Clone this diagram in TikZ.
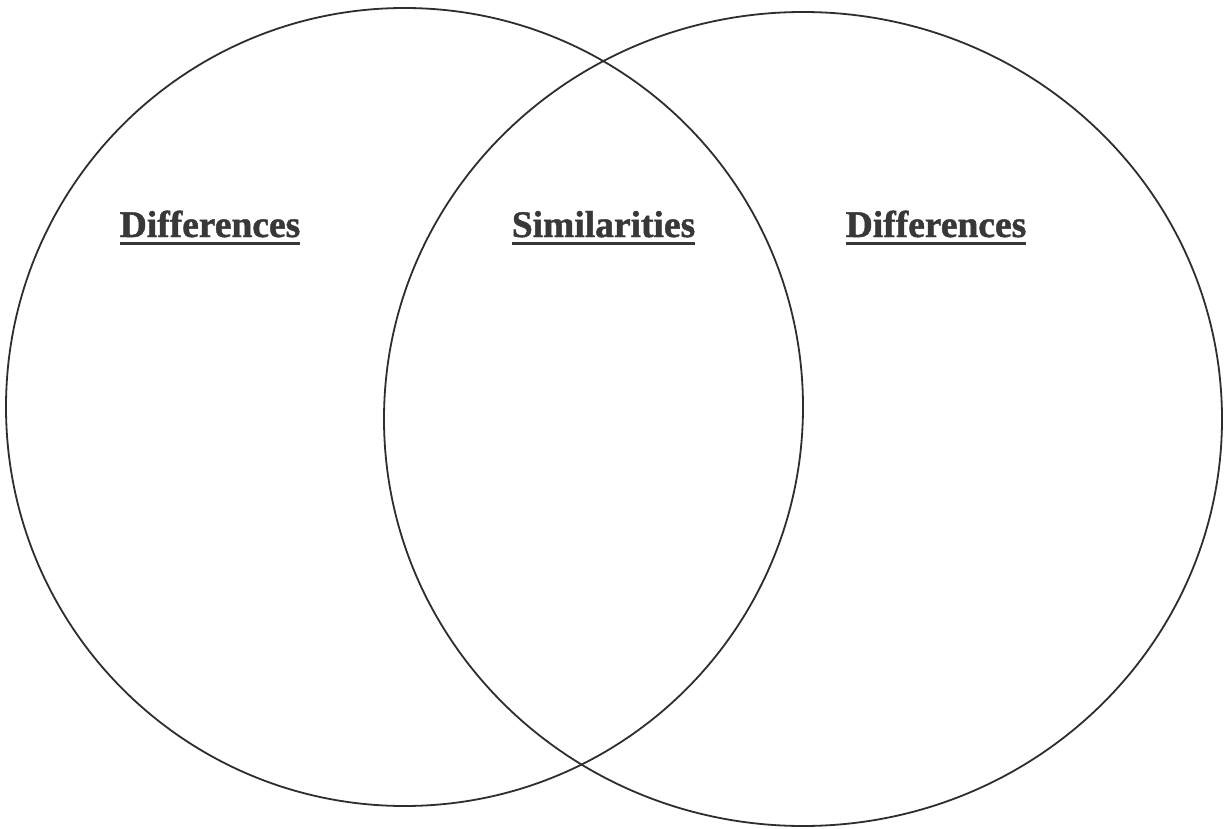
\documentclass[tikz,border=0pt]{standalone}
\usepackage{fontspec}
\setmainfont{Liberation Serif}
\newfontfamily\headfont[FakeBold=1.2]{Liberation Serif Bold}
\definecolor{ink}{HTML}{2E2E2E}
\definecolor{labelink}{HTML}{383838}
\tikzset{
  ring/.style={draw=ink, line width=1.8pt},
  heading/.style={anchor=base, inner sep=0pt, text=labelink,
    font=\fontsize{37.5}{40}\headfont},
  rule/.style={draw=labelink, line width=3pt}
}
\begin{document}
\begin{tikzpicture}[x=1pt, y=-1pt]
  \fill[white] (0,0) rectangle (1226,829);
  \useasboundingbox (0,0) rectangle (1226,829);

  % the two overlapping sets
  \draw[ring] (404.5,407) ellipse [x radius=398.5pt, y radius=399pt];
  \draw[ring] (803,419) ellipse [x radius=419pt, y radius=407pt];

  % headings
  \node[heading] (left)  at (210,237) {Differences};
  \node[heading] (mid)   at (603.5,237) {Similarities};
  \node[heading] (right) at (936,237) {Differences};

  % underlines
  \foreach \n in {left,mid,right}
    \draw[rule] ([yshift=-6pt]\n.base west) -- ([yshift=-6pt]\n.base east);
\end{tikzpicture}
\end{document}
